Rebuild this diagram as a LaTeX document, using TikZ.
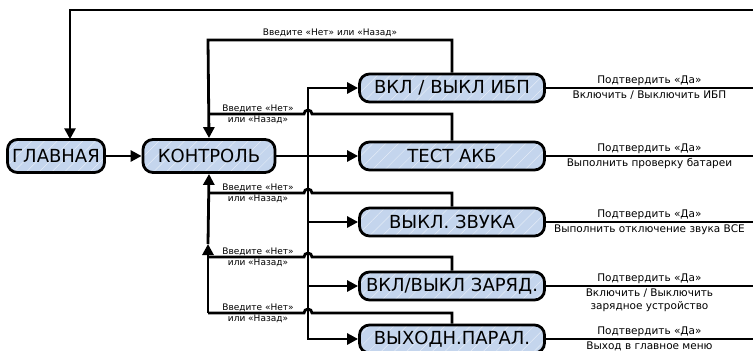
\documentclass[tikz,border=0pt]{standalone}
\usepackage{fontspec}
\setmainfont{DejaVu Sans}
\usetikzlibrary{arrows.meta,patterns.meta}
\definecolor{boxblue}{RGB}{196,213,237}
\tikzset{
  menu/.style={draw,line width=2.8pt,rounded corners=10pt,
    preaction={fill=boxblue},
    pattern={Lines[angle=45,distance=9pt,line width=0.5pt]},
    pattern color=white!55!boxblue,
    minimum width=185pt,minimum height=28pt,inner sep=0pt,
    font=\fontsize{18}{18}\selectfont},
  flow/.style={line width=2.8pt,-{Triangle[length=11pt,width=11pt]}},
  back/.style={line width=2.8pt},
  yes/.style={line width=2.2pt},
  note/.style={font=\fontsize{9}{10}\selectfont,inner sep=1.5pt},
  tell/.style={font=\fontsize{10.5}{13.5}\selectfont,align=center,inner sep=1.5pt}
}
\begin{document}
\begin{tikzpicture}[x=1pt,y=1pt]
  \useasboundingbox (0,0) rectangle (753,-351);
  \node[menu,minimum width=97pt,minimum height=33pt] (glav) at (56,-156) {ГЛАВНАЯ};
  \node[menu,minimum width=132pt,minimum height=33pt] (kontr) at (209,-156) {КОНТРОЛЬ};
  \node[menu] (ups) at (452,-88) {ВКЛ / ВЫКЛ ИБП};
  \node[menu] (akb) at (452,-156) {ТЕСТ АКБ};
  \node[menu] (zvuk) at (452,-222) {ВЫКЛ. ЗВУКА};
  \node[menu] (zar) at (452,-286) {ВКЛ/ВЫКЛ ЗАРЯД.};
  \node[menu] (vyh) at (452,-339) {ВЫХОДН.ПАРАЛ.};
  \coordinate (bt) at (308,-88);
  \coordinate (bb) at (308,-339);
  \coordinate (ret) at (208,-40);
  \coordinate (edge) at (753,-10);
  \draw[flow] (edge) -| ([xshift=14pt]glav.north);
  \draw[flow] (glav) -- (kontr);
  \draw[flow] (kontr) -- (akb);
  \draw[flow] (ups.north) |- (ret) node[note,pos=0.75,above] {Введите «Нет» или «Назад»}
  -- (kontr.north);
  \draw[flow] (bb) |- (ups);
  \draw[flow] (bt) |- (vyh);
  \foreach \n in {zvuk,zar}
    \draw[flow] (bt |- \n) -- (\n);
  \foreach \n/\y in {akb/-114,zvuk/-193,zar/-257,vyh/-313} {
    \draw[back] (\n.north) |- (312,\y) arc[start angle=0,end angle=180,radius=4]
    -- (208,\y);
    \node[note,above] at (258,\y) {Введите «Нет»};
    \node[note,below] at (258,\y) {или «Назад»};
  }
  \draw[flow] (208,-313) -- (208,-244);
  \draw[flow] (208,-244) -- (kontr.south);
  \foreach \n/\t in {ups/{Включить / Выключить ИБП},akb/{Выполнить проверку батареи},
    zvuk/{Выполнить отключение звука ВСЕ},zar/{Включить / Выключить\\зарядное устройство},
    vyh/{Выход в главное меню}}
    \draw[yes] (\n.east) -- (\n.east -| edge)
    node[tell,midway,above] {Подтвердить «Да»}
    node[tell,midway,below] {\t};
\end{tikzpicture}
\end{document}
